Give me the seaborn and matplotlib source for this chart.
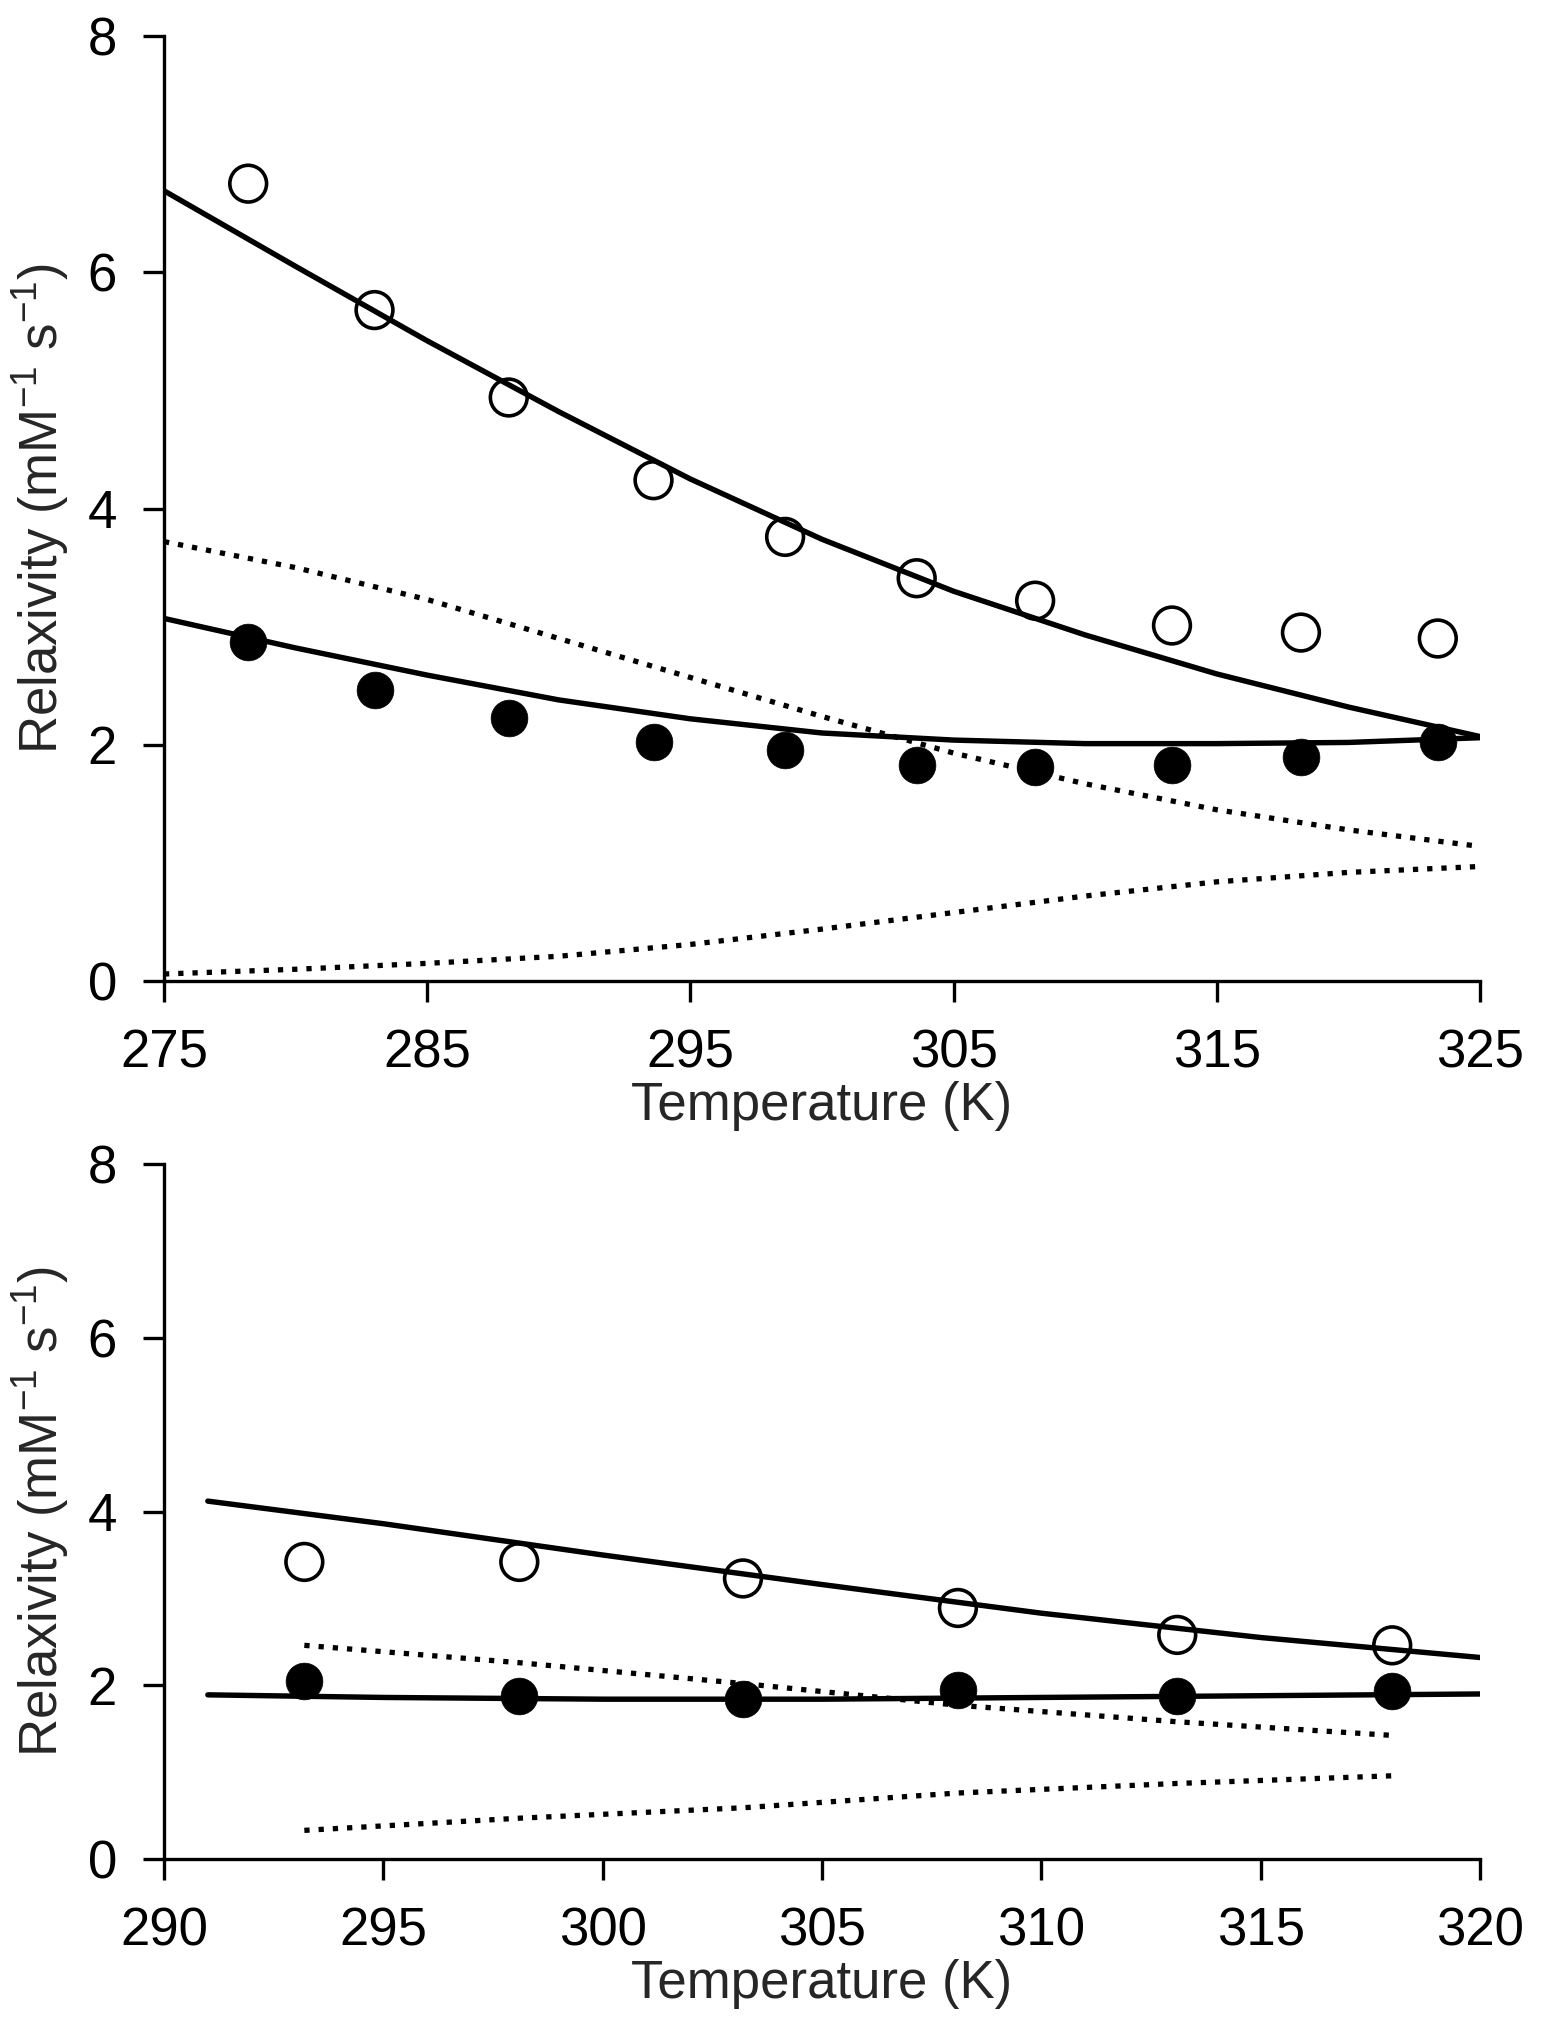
import numpy as np
import pandas as pd
import matplotlib
matplotlib.use("Agg")
import matplotlib.pyplot as plt
import seaborn as sns

# ---------------- data: top panel ----------------
top_T_pts = [278.2, 283.0, 288.1, 293.6, 298.6, 303.6, 308.1, 313.3, 318.2, 323.4]
top_open = [6.75, 5.68, 4.94, 4.24, 3.76, 3.41, 3.22, 3.01, 2.95, 2.90]
top_filled = [2.87, 2.46, 2.23, 2.02, 1.96, 1.83, 1.81, 1.83, 1.90, 2.02]

top_T_fit = [275, 280, 285, 290, 295, 300, 305, 310, 315, 320, 325]
top_open_fit = [6.69, 6.05, 5.42, 4.82, 4.25, 3.74, 3.30, 2.93, 2.60, 2.32, 2.07]
top_filled_fit = [3.07, 2.82, 2.59, 2.38, 2.22, 2.10, 2.04, 2.01, 2.01, 2.02, 2.06]
top_dot_upper = [3.72, 3.50, 3.23, 2.90, 2.57, 2.24, 1.93, 1.67, 1.45, 1.28, 1.14]
top_dot_lower = [0.06, 0.10, 0.15, 0.21, 0.31, 0.44, 0.58, 0.72, 0.84, 0.92, 0.97]

top_xticks = [275, 285, 295, 305, 315, 325]

# ---------------- data: bottom panel ----------------
bot_T_pts = [293.2, 298.1, 303.2, 308.1, 313.1, 318.0]
bot_open = [3.42, 3.42, 3.23, 2.89, 2.58, 2.46]
bot_filled = [2.05, 1.88, 1.84, 1.94, 1.88, 1.93]

bot_T_fit = [291, 295, 300, 305, 310, 315, 320]
bot_open_fit = [4.12, 3.86, 3.50, 3.16, 2.83, 2.55, 2.32]
bot_filled_fit = [1.89, 1.86, 1.84, 1.84, 1.86, 1.88, 1.90]

bot_T_dot = [293.2, 298.1, 303.2, 308.1, 313.1, 318.1]
bot_dot_upper = [2.46, 2.26, 2.02, 1.77, 1.58, 1.42]
bot_dot_lower = [0.33, 0.47, 0.59, 0.76, 0.87, 0.96]

bot_xticks = [290, 295, 300, 305, 310, 315, 320]

yticks = [0, 2, 4, 6, 8]
xlabel = "Temperature (K)"
ylabel = r"Relaxivity (mM$^{\mathregular{-1}}$ s$^{\mathregular{-1}}$)"

# ---------------- style ----------------
sns.set_theme(style="ticks")
plt.rcParams["font.family"] = ["Liberation Sans", "DejaVu Sans"]
plt.rcParams["mathtext.fontset"] = "custom"
plt.rcParams["mathtext.rm"] = "Liberation Sans"
plt.rcParams["mathtext.it"] = "Liberation Sans"
plt.rcParams["mathtext.default"] = "regular"

FS = 38
LW_SOLID = 3.9
LW_DOT = 3.8
DOT = (0, (1, 1.7))
MS = 700
SPINE_W = 2.4

fig = plt.figure(figsize=(15.44, 20.22), dpi=100)
ax1 = fig.add_axes([0.1062, 0.5148, 0.8523, 0.4674])
ax2 = fig.add_axes([0.1062, 0.0806, 0.8523, 0.3437])


def panel(ax, T_fit, open_fit, filled_fit, T_dot, d_up, d_lo, T_pts, opn, fil, xlim, xticks):
    sns.lineplot(x=T_dot, y=d_up, ax=ax, color="black", lw=LW_DOT, linestyle=DOT, zorder=2)
    sns.lineplot(x=T_dot, y=d_lo, ax=ax, color="black", lw=LW_DOT, linestyle=DOT, zorder=2)
    sns.lineplot(x=T_fit, y=open_fit, ax=ax, color="black", lw=LW_SOLID, zorder=3)
    sns.lineplot(x=T_fit, y=filled_fit, ax=ax, color="black", lw=LW_SOLID, zorder=3)
    sns.scatterplot(x=T_pts, y=opn, ax=ax, s=MS, marker="o", facecolor="none",
                    edgecolor="black", linewidth=2.6, zorder=4)
    sns.scatterplot(x=T_pts, y=fil, ax=ax, s=MS, marker="o", color="black",
                    edgecolor="black", linewidth=0.5, zorder=4)
    ax.set_xlim(*xlim)
    ax.set_ylim(0, 8)
    ax.set_xticks(xticks)
    ax.set_yticks(yticks)
    ax.set_xticklabels([str(t) for t in xticks])
    ax.set_yticklabels([str(t) for t in yticks])
    ax.set_xlabel(xlabel, fontsize=FS, labelpad=2)
    ax.set_ylabel(ylabel, fontsize=FS, labelpad=12)
    ax.tick_params(axis="both", labelsize=FS, length=15, width=SPINE_W,
                   direction="out", color="black", labelcolor="black", pad=19)
    for side in ["top", "right"]:
        ax.spines[side].set_visible(False)
    for side in ["left", "bottom"]:
        ax.spines[side].set_linewidth(SPINE_W)
        ax.spines[side].set_color("black")
    ax.set_facecolor("white")
    ax.grid(False)


panel(ax1, top_T_fit, top_open_fit, top_filled_fit, top_T_fit, top_dot_upper, top_dot_lower,
      top_T_pts, top_open, top_filled, (275, 325), top_xticks)
panel(ax2, bot_T_fit, bot_open_fit, bot_filled_fit, bot_T_dot, bot_dot_upper, bot_dot_lower,
      bot_T_pts, bot_open, bot_filled, (290, 320), bot_xticks)

fig.savefig("out.png", dpi=100, facecolor="white")
